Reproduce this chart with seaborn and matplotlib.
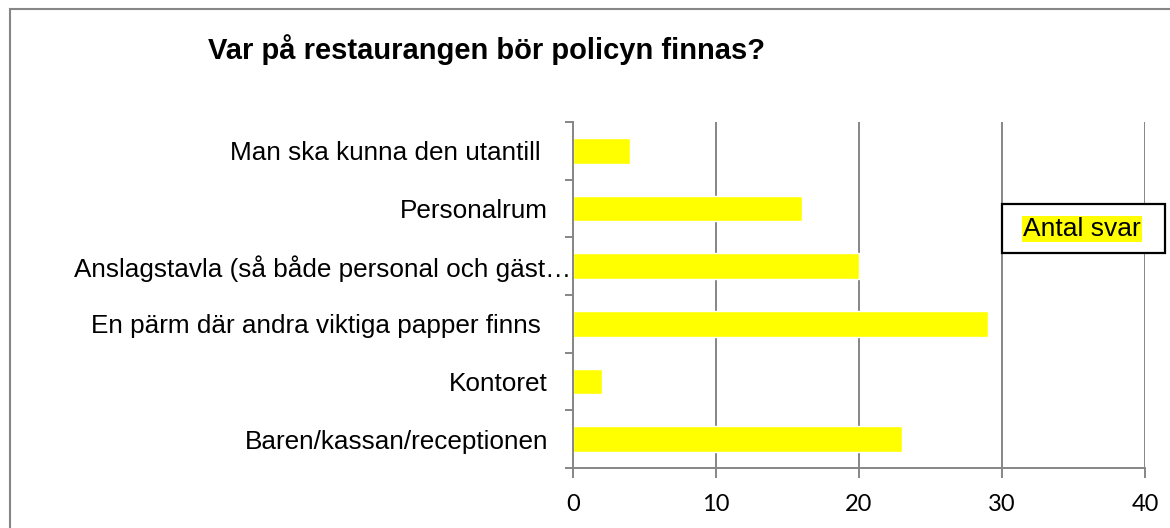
import matplotlib
matplotlib.use("Agg")
import matplotlib.pyplot as plt
from matplotlib.patches import Rectangle
from matplotlib.ticker import FixedLocator
from matplotlib.transforms import ScaledTranslation
import pandas as pd
import seaborn as sns

# data
categories = [
    "Man ska kunna den utantill ",
    "Personalrum",
    "Anslagstavla (så både personal och gäst…",
    "En pärm där andra viktiga papper finns ",
    "Kontoret",
    "Baren/kassan/receptionen",
]
antal_svar = [4, 16, 20, 29, 2, 23]
x_ticks = [0, 10, 20, 30, 40]
series_name = "Antal svar"

df = pd.DataFrame({"Plats": categories, series_name: antal_svar})

sns.set_theme(style="white")
plt.rcParams["font.family"] = ["Liberation Sans", "DejaVu Sans"]
plt.rcParams["text.color"] = "black"

grey = "#868686"
W, H = 1170, 528

fig = plt.figure(figsize=(11.7, 5.28), dpi=100)
ax = fig.add_axes([573 / W, 1 - 468 / H, (1145 - 573) / W, (468 - 122) / H])

sns.barplot(data=df, x=series_name, y="Plats", color="#ffff00", width=0.44,
            saturation=1, ax=ax, orient="h")

ax.set_xlim(0, 40)
ax.set_ylim(len(categories) - 0.5, -0.5)
ax.set_xticks(x_ticks)
ax.set_xlabel("")
ax.set_ylabel("")

# gridlines behind the bars
ax.set_axisbelow(True)
ax.grid(axis="x", color=grey, linewidth=1.4)
ax.grid(axis="y", visible=False)

for side in ["top", "right"]:
    ax.spines[side].set_visible(False)
for side in ["left", "bottom"]:
    ax.spines[side].set_color(grey)
    ax.spines[side].set_linewidth(1.4)

ax.tick_params(axis="y", which="major", length=0, pad=18, labelsize=18.8, labelcolor="black")
ax.yaxis.set_minor_locator(FixedLocator([i - 0.5 for i in range(len(categories) + 1)]))
ax.tick_params(axis="y", which="minor", left=True, length=6, width=1.4, color=grey)
ax.tick_params(axis="x", which="major", bottom=True, length=7, width=1.4, color=grey,
               pad=12, labelsize=17, labelcolor="black")
for lbl in ax.get_xticklabels():
    lbl.set_fontfamily(["Lato", "DejaVu Sans"])

# the truncated label runs right up to the axis in the original
for lbl in ax.get_yticklabels():
    if lbl.get_text().endswith("…"):
        lbl.set_transform(lbl.get_transform() + ScaledTranslation(0.23, 0, fig.dpi_scale_trans))

fig.text(487 / W, 1 - 50 / H, "Var på restaurangen bör policyn finnas?",
         ha="center", va="center", fontsize=21, fontweight="bold", color="black")

# legend box
fig.add_artist(Rectangle((1002 / W, 1 - 253 / H), 163 / W, 49 / H, transform=fig.transFigure,
                         facecolor="white", edgecolor="black", linewidth=1.6))
fig.text(1082 / W, 1 - 229 / H, series_name, ha="center", va="center", fontsize=19,
         color="black", bbox=dict(facecolor="#ffff00", edgecolor="none", pad=1))

# outer chart border (only left and top fall inside the picture)
fig.add_artist(Rectangle((10 / W, -0.5), 2, 0.983 + 0.5, transform=fig.transFigure,
                         fill=False, edgecolor=grey, linewidth=1.5))

fig.savefig("out.png", dpi=100)
